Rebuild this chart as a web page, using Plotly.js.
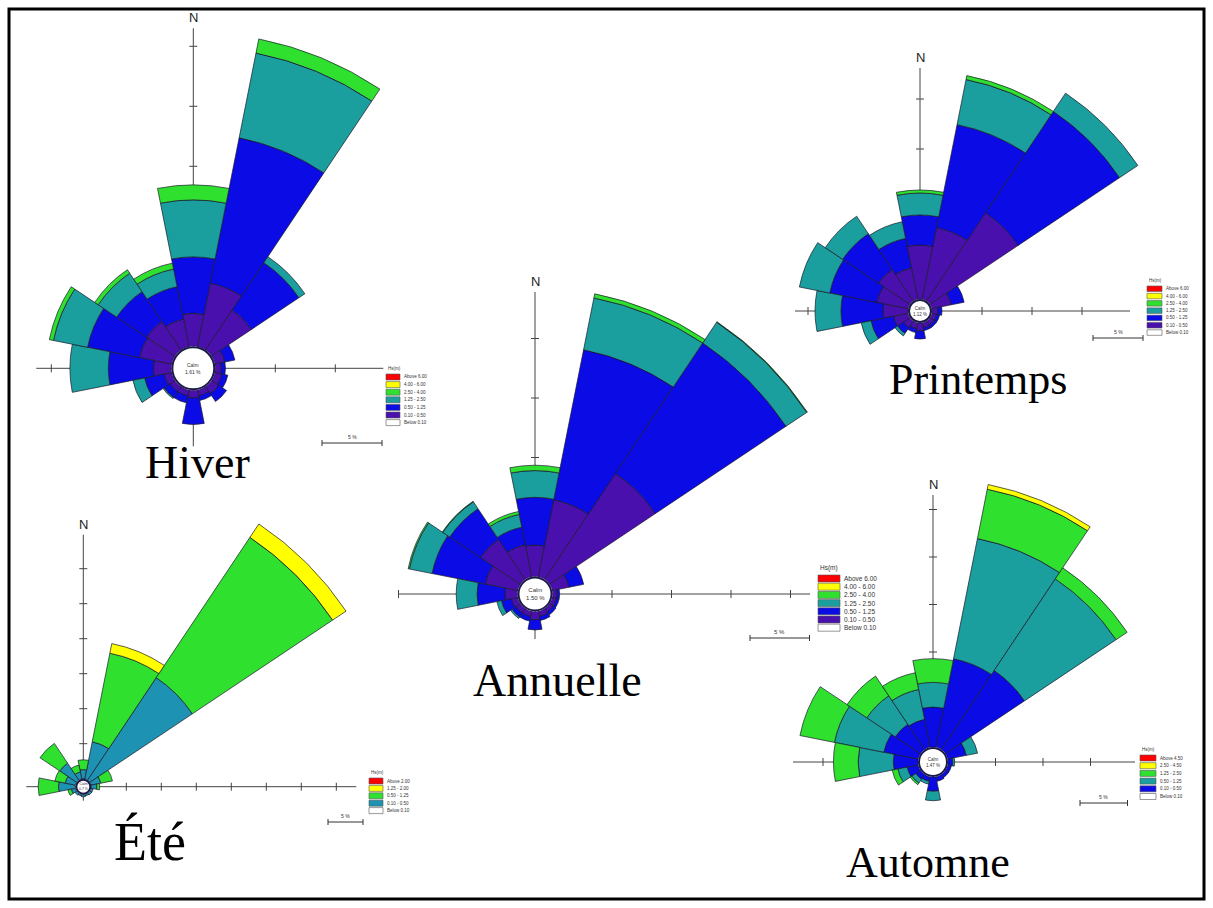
<!DOCTYPE html>
<html><head><meta charset="utf-8">
<script src="https://cdn.plot.ly/plotly-3.0.1.min.js"></script>
<style>
html,body{margin:0;padding:0;overflow:hidden;background:#fff;width:1213px;height:908px;position:relative}
#plot{position:absolute;left:-300px;top:-300px;width:1813px;height:1508px}
</style>
</head><body><div id="plot"></div>
<script>
// ---------------- DATA ----------------
const directions = ['N','NNE','NE','ENE','E','ESE','SE','SSE','S','SSW','SW','WSW','W','WNW','NW','NNW'];

// class labels (legend, top to bottom)
const labels7 = ['Above 6.00','4.00 - 6.00','2.50 - 4.00','1.25 - 2.50','0.50 - 1.25','0.10 - 0.50','Below 0.10'];
const labelsEte = ['Above 2.00','1.25 - 2.00','0.50 - 1.25','0.10 - 0.50','Below 0.10'];
const labelsAutomne = ['Above 4.50','2.50 - 4.50','1.25 - 2.50','0.50 - 1.25','0.10 - 0.50','Below 0.10'];
const legendTitle = 'Hs(m)';
const calmHiver = '1.61 %', calmPrintemps = '1.12 %', calmAnnuelle = '1.50 %', calmEte = '0.7 %', calmAutomne = '1.47 %';
const roseTitles = ['Hiver','Printemps','Annuelle','Été','Automne'];

// Hiver (%), order = directions
const hiver_010_050 = [2.75,5.40,4.00,0.85,0.50,0.60,0.70,0.50,0.65,0.50,0.50,0.65,1.50,2.75,2.85,2.35];
const hiver_050_125 = [4.70,12.35,4.75,0.85,0.35,0.50,0.80,0.40,2.20,0.60,0.60,1.65,3.75,4.40,3.00,2.75];
const hiver_125_250 = [4.75,7.20,0.60,0,0,0,0,0,0,0,0.10,1.00,3.20,2.90,1.85,1.50];
const hiver_250_400 = [1.25,1.20,0,0,0,0,0,0,0,0,0,0,0,0.35,0.35,0.50];

// Annuelle
const annuelle_010_050 = [2.65,6.60,10.70,1.45,0.40,0.35,0.35,0.45,0.70,0.45,0.45,0.55,1.05,2.80,4.05,2.75];
const annuelle_050_125 = [4.00,12.85,13.20,1.25,0.20,0.25,0.30,0.35,0.85,0.40,0.40,0.85,2.35,4.55,3.10,1.50];
const annuelle_125_250 = [2.25,4.45,2.10,0,0,0,0,0,0,0,0.15,0.40,1.75,1.95,0.70,1.10];
const annuelle_250_400 = [0.45,0.35,0.05,0,0,0,0,0,0,0,0,0,0,0.10,0.05,0.25];

// Printemps
const printemps_010_050 = [5.4,7.3,10.6,2.0,0.6,0.5,0.5,0.5,0.8,0.6,0.8,1.5,2.5,3.2,3.8,3.2];
const printemps_050_125 = [3.0,10.5,12.2,1.3,0.4,0.3,0.3,0.3,0.8,0.4,0.7,2.3,4.2,4.8,4.3,3.0];
const printemps_125_250 = [2.2,4.6,2.2,0,0,0,0,0,0,0,0.3,1.0,2.6,3.1,2.1,1.7];
const printemps_250_400 = [0.3,0.4,0,0,0,0,0,0,0,0,0,0,0,0,0,0];

// Ete
const ete_010_050 = [1.3,5.4,17.6,1.4,0.8,0.3,0.3,0.2,0.3,0.2,0.3,0.6,2.4,1.5,2.9,1.0];
const ete_050_125 = [1.4,12.9,24.1,1.7,0.4,0,0,0,0,0,0,0.5,2.9,1.5,3.4,1.0];
const ete_125_200 = [0,1.4,2.3,0,0,0,0,0,0,0,0,0,0,0,0,0];

// Automne
const automne_010_050 = [4.2,9.5,10.0,2.0,0.5,0.4,0.4,0.5,1.5,0.5,0.6,1.2,2.6,3.7,3.2,3.0];
const automne_050_125 = [2.6,12.9,11.6,1.2,0.2,0,0,0,1.0,0.3,0.5,1.0,3.7,5.3,3.6,3.2];
const automne_125_250 = [2.5,5.3,1.4,0,0,0,0,0,0,0,0.2,0.6,2.6,3.7,2.5,1.8];
const automne_250_450 = [0,0.5,0,0,0,0,0,0,0,0,0,0,0,0,0,0];

// ---------------- STYLE / LAYOUT ----------------
const C = {red:'#FF0000', yellow:'#FFFF00', green:'#2FE02F', teal:'#1A9E9E', blue:'#0B0BE6', indigo:'#4A10AE', white:'#FFFFFF', tealE:'#1E92B2'};
const colors7 = [C.red,C.yellow,C.green,C.teal,C.blue,C.indigo,C.white];
const colorsEte = [C.red,C.yellow,C.green,C.tealE,C.white];
const colorsAut = [C.red,C.yellow,C.green,C.teal,C.blue,C.white];

const P = 300, W = 1213 + 2*P, H = 908 + 2*P;
const xp = px => (px + P) / W;
const yp = py => 1 - (py + P) / H;

const roses = [
  {title:roseTitles[0], cx:193.3, cy:368.3, h:22, s:12, rmax:27.5, ext:{l:157,r:190,u:340,d:78}, calm:calmHiver, calmFs:5,
   series:[{r:hiver_010_050,c:C.indigo},{r:hiver_050_125,c:C.blue},{r:hiver_125_250,c:C.teal},{r:hiver_250_400,c:C.green}],
   legend:{x:386,y:373,rh:7.6,sw:14,sh:6,fs:4.5,labels:labels7,colors:colors7},
   scale:{x:322,y:443,fs:5}, tt:{x:198,y:462,fs:46}},
  {title:roseTitles[1], cx:920, cy:311, h:12, s:10, rmax:26, ext:{l:125,r:210,u:243,d:19}, calm:calmPrintemps, calmFs:4.5,
   series:[{r:printemps_010_050,c:C.indigo},{r:printemps_050_125,c:C.blue},{r:printemps_125_250,c:C.teal},{r:printemps_250_400,c:C.green}],
   legend:{x:1147,y:285,rh:7.3,sw:15,sh:5.5,fs:4.5,labels:labels7,colors:colors7},
   scale:{x:1093,y:338,fs:5}, tt:{x:978,y:380,fs:44}},
  {title:roseTitles[2], cx:535, cy:594, h:17.5, s:11.9, rmax:26.5, ext:{l:137,r:275,u:302,d:45}, calm:calmAnnuelle, calmFs:6,
   series:[{r:annuelle_010_050,c:C.indigo},{r:annuelle_050_125,c:C.blue},{r:annuelle_125_250,c:C.teal},{r:annuelle_250_400,c:C.green}],
   legend:{x:818,y:574,rh:8.2,sw:22,sh:7,fs:6.5,labels:labels7,colors:colors7},
   scale:{x:750,y:638,fs:6}, tt:{x:557,y:680,fs:46}},
  {title:roseTitles[3], cx:83.3, cy:786.7, h:8, s:7, rmax:44.5, ext:{l:57,r:273,u:252,d:14}, calm:calmEte, calmFs:3.5,
   series:[{r:ete_010_050,c:C.tealE},{r:ete_050_125,c:C.green},{r:ete_125_200,c:C.yellow}],
   legend:{x:369,y:777,rh:7.4,sw:14,sh:6,fs:4.5,labels:labelsEte,colors:colorsEte},
   scale:{x:328,y:822,fs:5}, tt:{x:150,y:842,fs:54}},
  {title:roseTitles[4], cx:933, cy:762, h:15, s:9.5, rmax:28.5, ext:{l:140,r:202,u:267,d:38}, calm:calmAutomne, calmFs:4.5,
   series:[{r:automne_010_050,c:C.blue},{r:automne_050_125,c:C.teal},{r:automne_125_250,c:C.green},{r:automne_250_450,c:C.yellow}],
   legend:{x:1140,y:754,rh:7.7,sw:16,sh:6,fs:4.5,labels:labelsAutomne,colors:colorsAut},
   scale:{x:1080,y:803,fs:5}, tt:{x:928,y:862,fs:44}}
];

const traces = [], shapes = [], annotations = [];
const layout = {width:W, height:H, margin:{l:0,r:0,t:0,b:0,pad:0}, paper_bgcolor:'#fff', showlegend:false,
  font:{family:'Liberation Sans, Arial, sans-serif', color:'#000'}};
const axisCol = '#444';
const line = (x0,y0,x1,y1,col,w,layer) => shapes.push({type:'line',xref:'paper',yref:'paper',x0:xp(x0),y0:yp(y0),x1:xp(x1),y1:yp(y1),line:{color:col,width:w},layer:layer||'below'});

roses.forEach((ro, i) => {
  const pid = i === 0 ? 'polar' : 'polar' + (i+1);
  const R = ro.h + ro.rmax * ro.s;
  layout[pid] = {
    domain:{x:[xp(ro.cx - R), xp(ro.cx + R)], y:[yp(ro.cy + R), yp(ro.cy - R)]},
    hole: ro.h / R, bgcolor:'rgba(0,0,0,0)', barmode:'stack', bargap:0,
    radialaxis:{visible:false, range:[0, ro.rmax]},
    angularaxis:{visible:false, type:'category', categoryarray:directions, rotation:90, direction:'clockwise'}
  };
  const nCls = ro.legend.labels.length;
  ro.series.forEach((se, k) => {
    const lab = ro.legend.labels[nCls - 2 - k];
    traces.push({type:'barpolar', subplot:pid, r:se.r, theta:directions, name:lab,
      marker:{color:se.c, line:{color:'#1a1a2a', width:0.7}},
      hovertemplate: ro.title + ' %{theta}: %{r:.2f} %<extra>' + lab + '</extra>'});
  });
  // crosshair axes
  line(ro.cx - ro.ext.l, ro.cy, ro.cx + ro.ext.r, ro.cy, axisCol, 1);
  line(ro.cx, ro.cy - ro.ext.u, ro.cx, ro.cy + ro.ext.d, axisCol, 1);
  const step = 5 * ro.s, tl = 4;
  for (let d = ro.h + step; d < Math.max(ro.ext.l, ro.ext.r, ro.ext.u) + 1; d += step) {
    if (d <= ro.ext.r) line(ro.cx + d, ro.cy - tl, ro.cx + d, ro.cy + tl, axisCol, 1);
    if (d <= ro.ext.l) line(ro.cx - d, ro.cy - tl, ro.cx - d, ro.cy + tl, axisCol, 1);
    if (d <= ro.ext.u) line(ro.cx - tl, ro.cy - d, ro.cx + tl, ro.cy - d, axisCol, 1);
  }
  annotations.push({xref:'paper',yref:'paper',x:xp(ro.cx),y:yp(ro.cy - ro.ext.u - 1),xanchor:'center',yanchor:'bottom',
    text:'N',showarrow:false,font:{size:13,color:'#222'}});
  // calm circle
  const cr = ro.h - 1;
  shapes.push({type:'circle',xref:'paper',yref:'paper',x0:xp(ro.cx-cr),x1:xp(ro.cx+cr),y0:yp(ro.cy+cr),y1:yp(ro.cy-cr),
    fillcolor:'#fff',line:{color:'#1a1a4a',width:2},layer:'above'});
  annotations.push({xref:'paper',yref:'paper',x:xp(ro.cx),y:yp(ro.cy),xanchor:'center',yanchor:'middle',
    text:'Calm<br>'+ro.calm,showarrow:false,font:{size:ro.calmFs,color:'#333'}});
  // legend
  const L = ro.legend;
  annotations.push({xref:'paper',yref:'paper',x:xp(L.x),y:yp(L.y),xanchor:'left',yanchor:'bottom',text:legendTitle,
    showarrow:false,font:{size:L.fs,color:'#333'}});
  L.labels.forEach((lb, k) => {
    const top = L.y + 1 + k * L.rh;
    shapes.push({type:'rect',xref:'paper',yref:'paper',x0:xp(L.x),x1:xp(L.x+L.sw),y0:yp(top+L.sh),y1:yp(top),
      fillcolor:L.colors[k],line:{color:'#555',width:0.6},layer:'above'});
    annotations.push({xref:'paper',yref:'paper',x:xp(L.x+L.sw+2),y:yp(top+L.sh/2),xanchor:'left',yanchor:'middle',
      text:lb,showarrow:false,font:{size:L.fs,color:'#333'}});
  });
  // scale bar (5 %)
  const S = ro.scale, len = 5 * ro.s;
  line(S.x, S.y, S.x + len, S.y, '#333', 1, 'above');
  line(S.x, S.y - 3, S.x, S.y + 3, '#333', 1, 'above');
  line(S.x + len, S.y - 3, S.x + len, S.y + 3, '#333', 1, 'above');
  annotations.push({xref:'paper',yref:'paper',x:xp(S.x + len/2),y:yp(S.y - 1),xanchor:'center',yanchor:'bottom',
    text:'5 %',showarrow:false,font:{size:S.fs,color:'#333'}});
  // title
  annotations.push({xref:'paper',yref:'paper',x:xp(ro.tt.x),y:yp(ro.tt.y),xanchor:'center',yanchor:'middle',
    text:ro.title,showarrow:false,font:{family:'Liberation Serif, Times New Roman, serif',size:ro.tt.fs,color:'#000'}});
});
// outer frame
shapes.push({type:'rect',xref:'paper',yref:'paper',x0:xp(9),x1:xp(1204),y0:yp(899),y1:yp(9),
  line:{color:'#000',width:3},fillcolor:'rgba(0,0,0,0)',layer:'above'});
layout.shapes = shapes;
layout.annotations = annotations;
Plotly.newPlot('plot', traces, layout, {displayModeBar:false});
</script>
</body></html>
